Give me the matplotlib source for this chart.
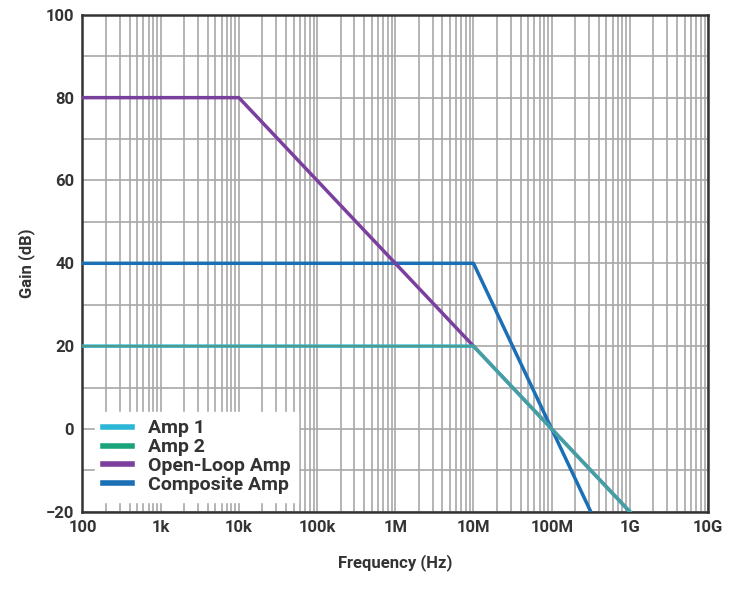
import numpy as np
import matplotlib.pyplot as plt
from matplotlib.ticker import LogLocator, NullFormatter

plt.rcParams['font.family'] = ['Roboto', 'DejaVu Sans']
plt.rcParams['font.weight'] = 'bold'
plt.rcParams['axes.labelweight'] = 'bold'

# breakpoints (Hz, dB)
amp1_f = [100, 1e7, 1e9]
amp1_g = [20, 20, -20]
amp2_f = [100, 1e7, 1e9]
amp2_g = [20, 20, -20]
ol_f = [100, 1e4, 1e9]
ol_g = [80, 80, -20]
comp_f = [100, 1e7, 10**8.5]
comp_g = [40, 40, -20]

xticks = [1e2, 1e3, 1e4, 1e5, 1e6, 1e7, 1e8, 1e9, 1e10]
xlabels = ['100', '1k', '10k', '100k', '1M', '10M', '100M', '1G', '10G']
yticks = [-20, 0, 20, 40, 60, 80, 100]

fig = plt.figure(figsize=(7.3, 5.93), dpi=100)
ax = fig.add_axes([0.113, 0.137, 0.857, 0.838])

ax.plot(comp_f, comp_g, c='#1a6fb5', lw=2.5, label='Composite Amp', zorder=3)
ax.plot(ol_f, ol_g, c='#7b3f9e', lw=2.5, label='Open-Loop Amp', zorder=4)
ax.plot(amp1_f, amp1_g, c='#2bb6d6', lw=2.5, label='Amp 1', zorder=5)
ax.plot(amp2_f, amp2_g, c='#4f9a8a', lw=1.5, label='Amp 2', zorder=6)

ax.set_xscale('log')
ax.set_xlim(1e2, 1e10)
ax.set_ylim(-20, 100)
ax.set_xticks(xticks)
ax.set_xticklabels(xlabels, fontsize=12)
ax.xaxis.set_minor_locator(LogLocator(base=10, subs=np.arange(2, 10), numticks=100))
ax.xaxis.set_minor_formatter(NullFormatter())
ax.set_yticks(yticks)
ax.set_yticks(np.arange(-20, 101, 10), minor=True)
ax.tick_params(axis='y', labelsize=12)
ax.tick_params(which='both', length=0, pad=6, colors='#333333')
ax.grid(which='both', color='#a8a8a8', lw=1.2)
for s in ax.spines.values():
    s.set_color('#333333')
    s.set_linewidth(1.8)
ax.set_xlabel('Frequency (Hz)', fontsize=12, color='#333333', labelpad=14)
ax.set_ylabel('Gain (dB)', fontsize=12, color='#333333', labelpad=8)

h, l = ax.get_legend_handles_labels()
order = [2, 3, 1, 0]
leg = ax.legend([h[i] for i in order], [l[i] for i in order], loc='lower left',
                fontsize=14, frameon=True, fancybox=False, edgecolor='white',
                framealpha=1, handlelength=1.5, labelspacing=0.05,
                borderaxespad=0.5, bbox_to_anchor=(0.005, 0.0))
for line in leg.get_lines():
    line.set_linewidth(4)
leg.get_lines()[1].set_color('#1aa37a')
for t in leg.get_texts():
    t.set_color('#333333')

fig.savefig('out.png', dpi=100)
